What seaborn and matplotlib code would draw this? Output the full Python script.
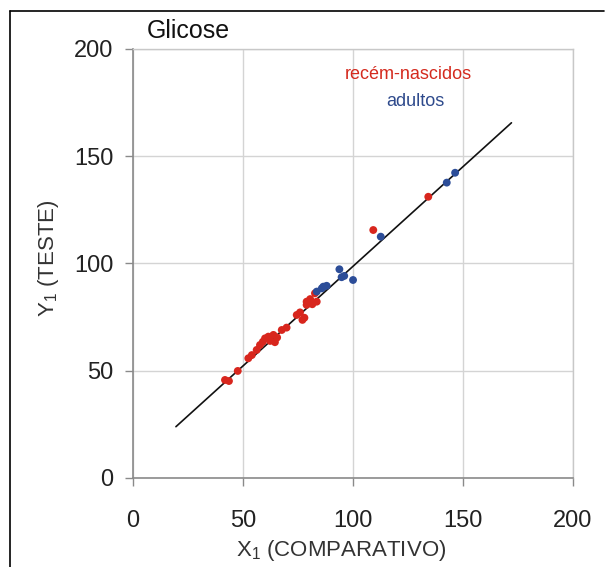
import numpy as np
import pandas as pd
import matplotlib
matplotlib.use("Agg")
import matplotlib.pyplot as plt
from matplotlib.lines import Line2D
import seaborn as sns

# Glucose: comparative method (X1) vs test method (Y1)
newborn_x = [41.8, 43.6, 47.6, 52.4, 54.0, 56.2, 57.7, 59.0, 60.0, 61.5, 62.3,
             63.8, 64.5, 65.5, 67.6, 69.8, 74.4, 75.9, 77.0, 77.9, 78.9, 80.5,
             78.9, 83.5, 82.7, 81.5, 109.2, 134.2]
newborn_y = [45.7, 45.2, 49.9, 55.8, 57.3, 59.7, 62.0, 63.5, 65.1, 65.9, 63.9,
             66.7, 63.3, 65.5, 69.0, 70.1, 76.0, 77.2, 73.7, 74.7, 82.2, 83.4,
             80.7, 82.2, 86.1, 81.0, 115.6, 131.1]
adult_x = [83.5, 85.8, 86.5, 88.0, 93.8, 94.8, 96.0, 100.0, 112.6, 142.6, 146.4]
adult_y = [86.9, 88.4, 89.2, 89.6, 97.3, 93.6, 94.2, 92.3, 112.5, 137.7, 142.3]

group_names = ["recém-nascidos", "adultos"]
group_colors = ["#d8261d", "#2c4d98"]

# regression line y = a + b*x drawn over x range
fit_intercept = 5.8
fit_slope = 0.929
fit_x = [19.5, 172.0]

axis_ticks = [0, 50, 100, 150, 200]

df = pd.DataFrame({
    "x": newborn_x + adult_x,
    "y": newborn_y + adult_y,
    "grupo": [group_names[0]] * len(newborn_x) + [group_names[1]] * len(adult_x),
})

sns.set_theme(style="white")
plt.rcParams["font.family"] = ["Liberation Sans", "DejaVu Sans"]

fig = plt.figure(figsize=(6.08, 5.67), dpi=100)
ax = fig.add_axes([0.2188, 0.157, 0.7237, 0.7566])

ax.grid(True, color="#d4d4d4", linewidth=1.0)
ax.set_axisbelow(True)

fx = np.array(fit_x)
ax.plot(fx, fit_intercept + fit_slope * fx, color="#111111", linewidth=1.2, zorder=2)

sns.scatterplot(data=df, x="x", y="y", hue="grupo", hue_order=group_names,
                palette=group_colors, s=32, edgecolor="none", legend=False,
                ax=ax, zorder=3)

ax.set_xlim(0, 200)
ax.set_ylim(0, 200)
ax.set_xticks(axis_ticks)
ax.set_yticks(axis_ticks)

for side in ["top", "right"]:
    ax.spines[side].set_color("#c8c8c8")
    ax.spines[side].set_linewidth(1.0)
for side in ["left", "bottom"]:
    ax.spines[side].set_color("#8a8a8a")
    ax.spines[side].set_linewidth(1.2)

ax.tick_params(axis="both", which="major", length=6, width=1.0, color="#8a8a8a",
               labelsize=17, labelcolor="#222222", direction="out",
               bottom=True, left=True)
ax.tick_params(axis="x", pad=17)
ax.tick_params(axis="y", pad=8)

ax.set_xlabel(r"X$_\mathregular{1}$ (COMPARATIVO)", fontsize=16, color="#333333")
ax.set_ylabel(r"Y$_\mathregular{1}$ (TESTE)", fontsize=16, color="#333333")
ax.xaxis.set_label_coords(0.473, -0.14)
ax.yaxis.set_label_coords(-0.163, 0.513)

ax.text(6.4, 208.5, "Glicose", fontsize=18, color="#111111", ha="left",
        va="center", clip_on=False)
ax.text(125, 188, group_names[0], fontsize=13, color="#d42a1e", ha="center",
        va="center")
ax.text(128.2, 175.5, group_names[1], fontsize=13, color="#2e4a8c", ha="center",
        va="center")

# outer frame lines
fig.add_artist(Line2D([0.0164, 0.0164], [0.0, 0.9806], transform=fig.transFigure,
                      color="black", linewidth=1.2))
fig.add_artist(Line2D([0.0164, 0.993], [0.9806, 0.9806], transform=fig.transFigure,
                      color="black", linewidth=1.2))

fig.savefig("out.png", dpi=100)
